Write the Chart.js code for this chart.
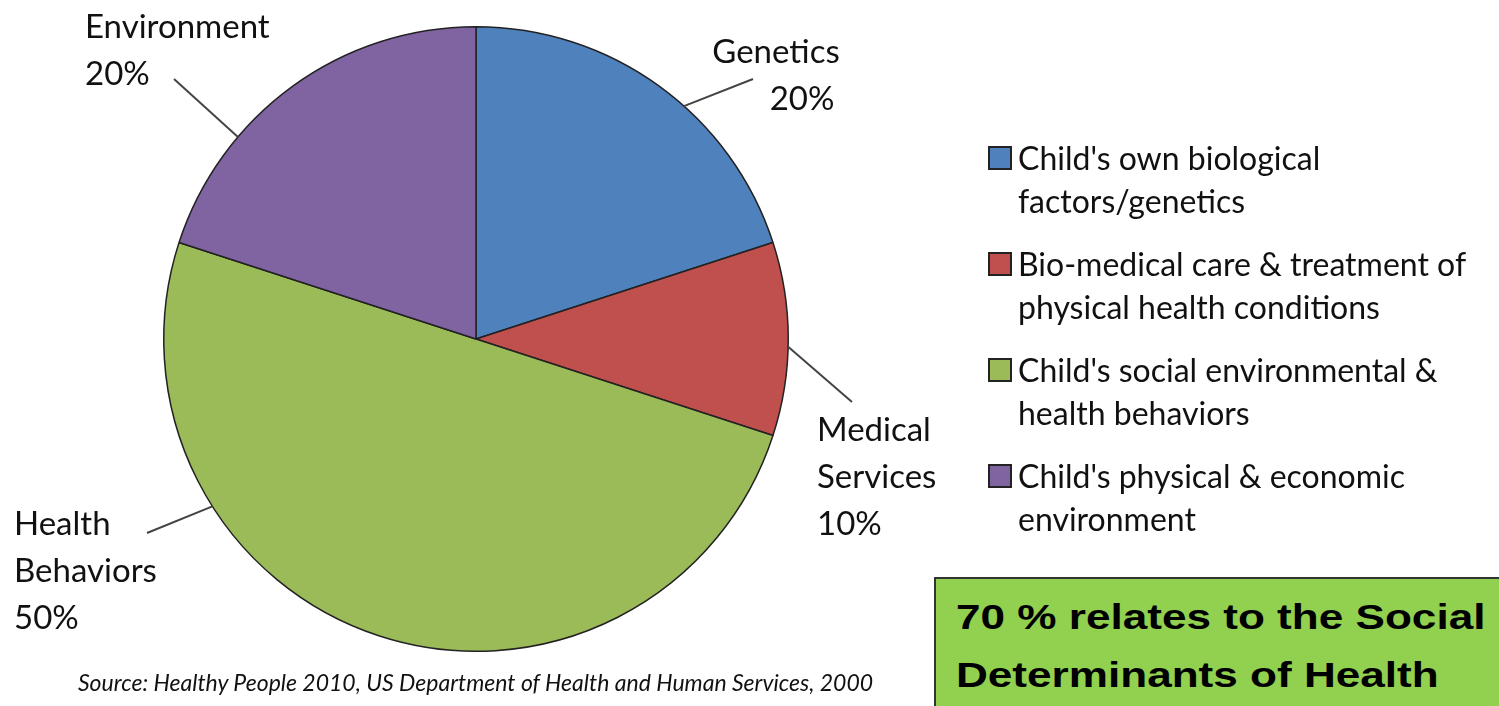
<!DOCTYPE html>
<html>
<head>
<meta charset="utf-8">
<script src="https://cdn.jsdelivr.net/npm/chart.js@4"></script>
<style>
  body { margin: 0; background: #fff; }
  #wrap { position: relative; width: 1499px; height: 706px; overflow: hidden; }
  #legend { position: absolute; left: 988px; top: 136px; font-family: Lato, sans-serif; font-size: 32px; color: #111; }
  .item { display: flex; align-items: flex-start; margin-bottom: 20px; line-height: 43px; white-space: nowrap; }
  .sw { width: 20px; height: 20px; border: 2px solid #222; margin: 10px 6px 0 0; flex: none; }
  #source { position: absolute; left: 78px; top: 668px; font-family: Lato, sans-serif; font-style: italic; font-size: 23px; color: #111; white-space: nowrap; }
  #note { position: absolute; left: 934px; top: 577px; width: 580px; height: 140px; background: #92d050; border: 2px solid #333;
          font-family: "Liberation Sans", Arial, sans-serif; font-weight: bold; font-size: 35px; line-height: 58px; padding: 9px 0 0 20px; box-sizing: border-box; }
  #note span { display: inline-block; transform: scaleX(1.26); transform-origin: left center; white-space: nowrap; }
</style>
</head>
<body>
<div id="wrap">
  <canvas id="myChart" width="1499" height="706"></canvas>
  <div id="legend"></div>
  <div id="source">Source: Healthy People 2010, US Department of Health and Human Services, 2000</div>
  <div id="note"><span>70 % relates to the Social</span><br><span>Determinants of Health</span></div>
</div>
<script>
const categories = ["Genetics", "Medical Services", "Health Behaviors", "Environment"];
const shares = [20, 10, 50, 20];
const labelLines = [["Genetics"], ["Medical", "Services"], ["Health", "Behaviors"], ["Environment"]];
const legendLabels = [
  ["Child's own biological", "factors/genetics"],
  ["Bio-medical care & treatment of", "physical health conditions"],
  ["Child's social environmental &", "health behaviors"],
  ["Child's physical & economic", "environment"]
];
const colors = ["#4f81bd", "#c0504d", "#9bbb59", "#8064a2"];

// where each label goes, and where its leader line meets it
const labelPos = [
  { x: 776, y: 52, align: "center", pctX: 802, at: 0.58, end: [753, 79] },
  { x: 817, y: 430, align: "left", at: 0.54, end: [852, 402] },
  { x: 14, y: 524, align: "left", at: 0.72, end: [147, 533] },
  { x: 85, y: 27, align: "left", at: 0.31, end: [174, 79] }
];

const pieLabels = {
  id: "pieLabels",
  afterDatasetsDraw(chart) {
    const c = chart.ctx;
    const arcs = chart.getDatasetMeta(0).data;
    c.save();
    c.font = "33px Lato, sans-serif";
    c.textBaseline = "middle";
    c.fillStyle = "#111";
    arcs.forEach((arc, i) => {
      const p = labelPos[i];
      const a = arc.startAngle + (arc.endAngle - arc.startAngle) * p.at;
      const sx = arc.x + Math.cos(a) * arc.outerRadius;
      const sy = arc.y + Math.sin(a) * arc.outerRadius;
      c.strokeStyle = "#444";
      c.lineWidth = 2;
      c.beginPath();
      c.moveTo(sx, sy);
      c.lineTo(p.end[0], p.end[1]);
      c.stroke();
      const lines = labelLines[i].concat([shares[i] + "%"]);
      lines.forEach((t, j) => {
        c.textAlign = p.align;
        let x = p.x;
        if (j === lines.length - 1 && p.pctX) x = p.pctX;
        c.fillText(t, x, p.y + j * 47);
      });
    });
    c.restore();
  }
};

const legendEl = document.getElementById("legend");
legendLabels.forEach((lines, i) => {
  const d = document.createElement("div");
  d.className = "item";
  d.innerHTML = '<span class="sw" style="background:' + colors[i] + '"></span><span>' +
    lines.map(s => s.replace(/&/g, "&amp;")).join("<br>") + "</span>";
  legendEl.appendChild(d);
});

const ctx = document.getElementById("myChart");
new Chart(ctx, {
  type: "pie",
  data: {
    labels: categories,
    datasets: [{
      data: shares,
      backgroundColor: colors,
      borderColor: "#222",
      borderWidth: 1.5
    }]
  },
  options: {
    responsive: false,
    animation: false,
    devicePixelRatio: 1,
    layout: { padding: { left: 163, right: 710, top: 26, bottom: 54 } },
    plugins: {
      legend: { display: false },
      tooltip: { enabled: false }
    }
  },
  plugins: [pieLabels]
});
</script>
</body>
</html>
